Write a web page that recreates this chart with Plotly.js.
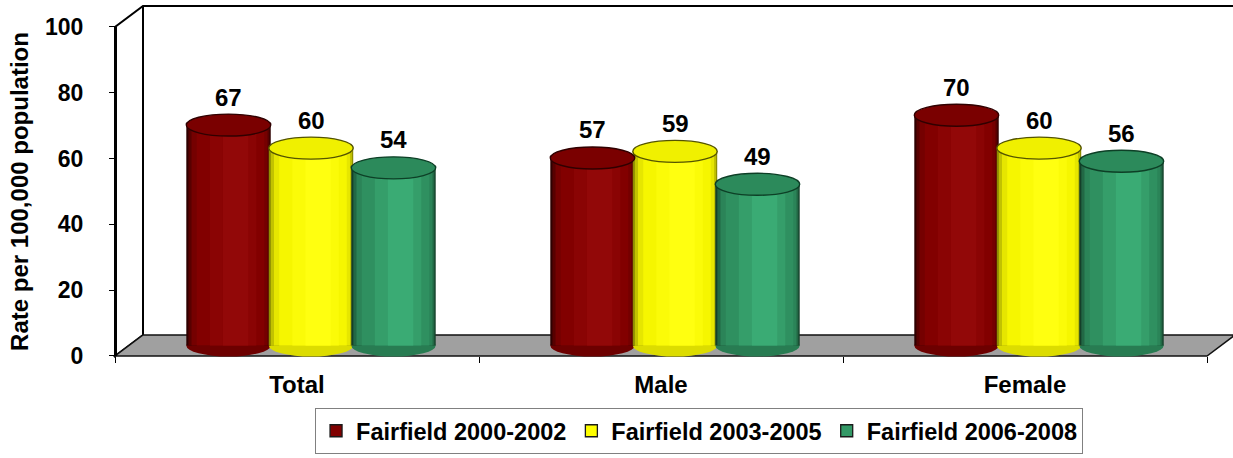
<!DOCTYPE html>
<html><head><meta charset="utf-8">
<script src="https://cdn.plot.ly/plotly-3.0.1.min.js"></script>
<style>html,body{margin:0;padding:0;background:#fff}#chart{width:1233px;height:458px}</style>
</head><body><div id="chart"></div>
<script>
// ---------- data ----------
const categories = ["Total", "Male", "Female"];
const seriesNames = ["Fairfield 2000-2002", "Fairfield 2003-2005", "Fairfield 2006-2008"];
const values2000_2002 = [67, 57, 70];
const values2003_2005 = [60, 59, 60];
const values2006_2008 = [54, 49, 56];
const yTickValues = [0, 20, 40, 60, 80, 100];
const yAxisTitle = "Rate per 100,000 population";

// ---------- styles ----------
const FONT = '"Liberation Sans", Arial, sans-serif';
const seriesValues = [values2000_2002, values2003_2005, values2006_2008];
const palettes = [
  {legend:'#800000', base:'#820000', edge:'#2e0000', light:'#920808', top:'#7a0000', rim:'#300000'},
  {legend:'#ffff00', base:'#f6f600', edge:'#8e8e00', light:'#ffff10', top:'#f0f000', rim:'#545400'},
  {legend:'#339966', base:'#2f9060', edge:'#143f29', light:'#3aab74', top:'#2c8a5b', rim:'#0d3f26'}
];
const BAR_W = 0.232, BAR_STEP = 0.2266;
const ELL_H = 3.34;             // half-height of ellipses (value units)
const DX = 28 / 364, DY = 21 / 3.29; // full depth offset in axis units

function hex(c){return [1,3,5].map(i=>parseInt(c.substr(i,2),16));}
function mix(a,b,t){const A=hex(a),B=hex(b);return 'rgb('+A.map((v,i)=>Math.round(v+(B[i]-v)*t)).join(',')+')';}
function proj(i,v,d){return [i+DX*d, v+DY*d];}
function pathOf(pts){return 'M'+pts.map(p=>p[0].toFixed(5)+','+p[1].toFixed(5)).join('L')+'Z';}

const xIdx = categories.map((c,i)=>i);
const xMin = -0.5, xMax = categories.length - 0.5;
const yMax = Math.max(...yTickValues);

const traces = [];
traces.push({type:'scatter', mode:'markers', x:categories, y:categories.map(()=>null),
  xaxis:'x2', yaxis:'y2', showlegend:false, hoverinfo:'skip'});
seriesNames.forEach((n,k)=>{
  traces.push({type:'bar', x:xIdx, y:xIdx.map(()=>null), name:n,
    marker:{color:palettes[k].legend, line:{color:'#1a1a1a', width:1.3}}, hoverinfo:'skip', showlegend:true});
});

const shapes = [];
const annotations = [];

shapes.push({type:'path', layer:'below', xref:'x', yref:'y',
  path:pathOf([proj(xMin,0,-0.5),proj(xMin,yMax,-0.5),proj(xMin,yMax,0.5),proj(xMin,0,0.5)]),
  fillcolor:'#ffffff', line:{color:'#000', width:2}});
shapes.push({type:'line', layer:'below', xref:'x', yref:'y',
  x0:proj(xMin,yMax,0.5)[0], y0:proj(xMin,yMax,0.5)[1], x1:proj(xMax,yMax,0.5)[0], y1:proj(xMax,yMax,0.5)[1],
  line:{color:'#000', width:2}});
shapes.push({type:'path', layer:'below', xref:'x', yref:'y',
  path:pathOf([proj(xMin,0,-0.5),proj(xMax,0,-0.5),proj(xMax,0,0.5),proj(xMin,0,0.5)]),
  fillcolor:'#a0a0a0', line:{color:'#111', width:1.5}});

// shading bands from outer edge to inner highlight
const bands = [
  {f:1.00, t:0.0},
  {f:0.96, t:0.5},
  {f:0.90, t:0.85},
  {f:0.80, t:1.0},
  {f:0.55, t:1.5},
  {f:0.30, t:2.0},
];
seriesValues.forEach((vals,k)=>{
  const p = palettes[k];
  const center = (k-1)*BAR_STEP;
  bands.forEach(b=>{
    const w = BAR_W*b.f;
    const shift = (1-b.f)*0.12*BAR_W;
    const col = b.t<=1 ? mix(p.edge,p.base,b.t) : mix(p.base,p.light,b.t-1);
    traces.push({type:'bar', x:xIdx, y:vals, width:w, offset:center+shift-w/2,
      marker:{color:col, line:{width:0}}, showlegend:false, hoverinfo:'skip'});
  });
  vals.forEach((v,i)=>{
    const cx = i + center;
    shapes.push({type:'circle', layer:'below', xref:'x', yref:'y',
      x0:cx-BAR_W/2, x1:cx+BAR_W/2, y0:-ELL_H, y1:ELL_H,
      fillcolor:mix(p.edge,p.base,0.75), line:{width:0}});
    shapes.push({type:'circle', layer:'above', xref:'x', yref:'y',
      x0:cx-BAR_W/2, x1:cx+BAR_W/2, y0:v-ELL_H, y1:v+ELL_H,
      fillcolor:p.top, line:{color:p.rim, width:1.4}});
    annotations.push({xref:'x', yref:'y', x:cx, y:v, yshift:28, yanchor:'middle', xanchor:'center',
      text:String(v), showarrow:false, font:{family:FONT, size:24, color:'#000', weight:'bold'}});
  });
});

const layout = {
  width:1233, height:458,
  margin:{l:80, r:0, t:5, b:93, pad:0},
  paper_bgcolor:'#ffffff', plot_bgcolor:'rgba(0,0,0,0)',
  barmode:'overlay',
  showlegend:true,
  font:{family:FONT, size:24, color:'#000', weight:'bold'},
  xaxis:{type:'linear', range:[-0.63462, 2.53297], visible:false, fixedrange:true},
  yaxis:{type:'linear', range:[-5.927, 103.495], visible:false, fixedrange:true},
  xaxis2:{type:'category', domain:[0, 1-14/1153], range:[-0.59615, 2.53297], anchor:'y2',
    tickson:'boundaries', ticks:'outside', ticklen:6, tickwidth:1, tickcolor:'#000',
    showline:false, showgrid:false, zeroline:false, ticklabelstandoff:12,
    tickfont:{family:FONT, size:24, color:'#000', weight:'bold'}},
  yaxis2:{type:'linear', domain:[0.025, 0.93889], range:[0, 100], anchor:'free', position:0.031223,
    tickmode:'array', tickvals:yTickValues, ticktext:yTickValues.map(String),
    ticks:'outside', ticklen:6, tickwidth:1, tickcolor:'#000',
    showline:true, linecolor:'#000', linewidth:2, showgrid:false, zeroline:false, ticklabelstandoff:21,
    tickfont:{family:FONT, size:23, color:'#000', weight:'bold'},
    title:{text:yAxisTitle, standoff:9, font:{family:FONT, size:24, color:'#000', weight:'bold'}}},
  legend:{orientation:'h', x:0.5369, xanchor:'center', y:-0.1194, yanchor:'top',
    bordercolor:'#808080', borderwidth:1, bgcolor:'#ffffff',
    font:{family:FONT, size:23.5, color:'#000', weight:'bold'}, traceorder:'normal'},
  shapes:shapes, annotations:annotations
};
Plotly.newPlot('chart', traces, layout, {staticPlot:true, displayModeBar:false});
</script></body></html>
